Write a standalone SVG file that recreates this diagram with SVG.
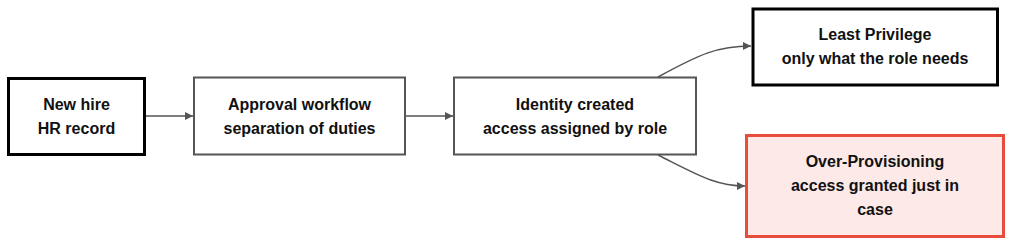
<svg xmlns="http://www.w3.org/2000/svg" width="1020" height="246" viewBox="0 0 1020 246">
<defs>
<marker id="arr" viewBox="0 0 10 10" refX="10" refY="5" markerWidth="8" markerHeight="8" markerUnits="userSpaceOnUse" orient="auto">
<path d="M0,0 L10,5 L0,10 z" fill="#555"/>
</marker>
<style>
.t{font-family:"Liberation Sans",Arial,sans-serif;font-size:16px;font-weight:bold;fill:#111;text-anchor:middle}
.n{fill:#fff;stroke:#555;stroke-width:2}
.k{fill:#fff;stroke:#000;stroke-width:3}
.r{fill:#fde9e7;stroke:#e74c3c;stroke-width:3}
.c{fill:none;stroke:#555;stroke-width:1.5}
</style>
</defs>
<g id="connectors">
<path class="c" d="M145,116 L193,116" marker-end="url(#arr)"/>
<path class="c" d="M405,116 L453,116" marker-end="url(#arr)"/>
<path class="c" d="M658,77 C700,54 718,46 751,46" marker-end="url(#arr)"/>
<path class="c" d="M658,155 C700,176 716,186 745,186" marker-end="url(#arr)"/>
</g>
<g id="new-hire">
<rect class="k" x="8.5" y="78.5" width="136" height="76"/>
<text class="t" x="76.5" y="109.5">New hire</text>
<text class="t" x="76.5" y="133.5">HR record</text>
</g>
<g id="approval">
<rect class="n" x="194" y="77.5" width="211" height="77"/>
<text class="t" x="299.5" y="109.5">Approval workflow</text>
<text class="t" x="299.5" y="133.5">separation of duties</text>
</g>
<g id="identity">
<rect class="n" x="454" y="77.5" width="242" height="77"/>
<text class="t" x="575" y="109.5">Identity created</text>
<text class="t" x="575" y="133.5">access assigned by role</text>
</g>
<g id="least-privilege">
<rect class="k" x="753" y="9" width="244.5" height="76"/>
<text class="t" x="875" y="40">Least Privilege</text>
<text class="t" x="875" y="64">only what the role needs</text>
</g>
<g id="over-provisioning">
<rect class="r" x="746.5" y="135.5" width="257" height="101"/>
<text class="t" x="875" y="166.5">Over-Provisioning</text>
<text class="t" x="875" y="190.5">access granted just in</text>
<text class="t" x="875" y="214.5">case</text>
</g>
</svg>
